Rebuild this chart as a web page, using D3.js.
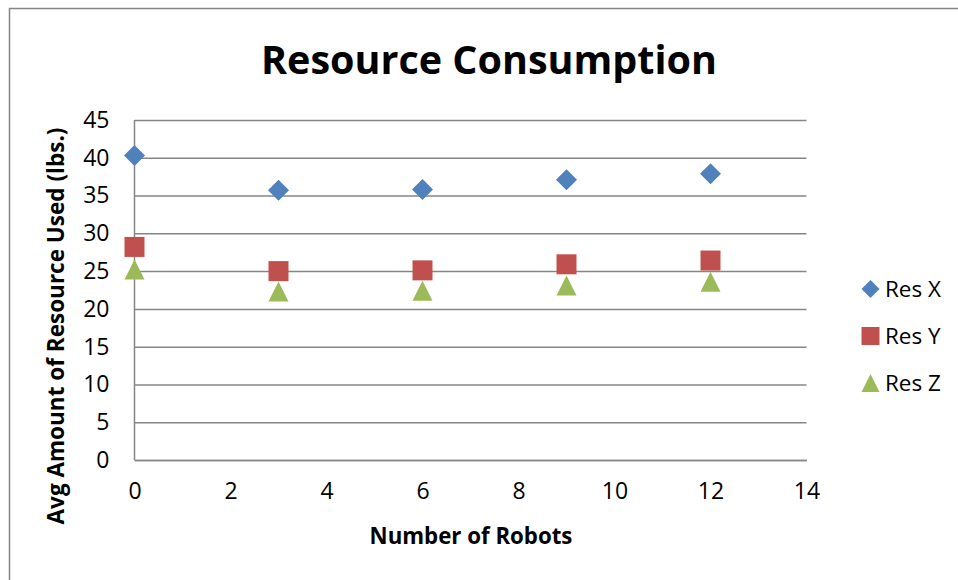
<!DOCTYPE html>
<html><head><meta charset="utf-8">
<script src="https://cdn.jsdelivr.net/npm/d3@7"></script>
<style>body{margin:0;background:#fff}svg{display:block}text{font-family:"Open Sans",sans-serif}</style>
</head><body>
<svg id="c" width="958" height="580"></svg>
<script>
const robots = [0, 3, 6, 9, 12];
const resX = [40.3, 35.7, 35.8, 37.1, 37.9];
const resY = [28.2, 25.0, 25.1, 25.9, 26.4];
const resZ = [25.2, 22.3, 22.4, 23.1, 23.6];
const seriesNames = ["Res X", "Res Y", "Res Z"];
const seriesColors = ["#4F81BD", "#C0504D", "#9BBB59"];
const xTicks = [0, 2, 4, 6, 8, 10, 12, 14];
const yTicks = [0, 5, 10, 15, 20, 25, 30, 35, 40, 45];
const title = "Resource Consumption";
const xTitle = "Number of Robots";
const yTitle = "Avg Amount of Resource Used (lbs.)";

const svg = d3.select("#c");
const m = {l: 134.5, r: 806.5, t: 120, b: 460};
const x = d3.scaleLinear().domain([0, 14]).range([m.l, m.r]);
const y = d3.scaleLinear().domain([0, 45]).range([m.b, m.t]);

// outer border
svg.append("rect").attr("x", 9.5).attr("y", 8.5).attr("width", 1000).attr("height", 1000)
  .attr("fill", "#fff").attr("stroke", "#868686").attr("stroke-width", 1.5);

function fit(sel, w) {
  const cur = sel.node().getComputedTextLength();
  const fs = parseFloat(sel.attr("font-size"));
  sel.attr("font-size", fs * w / cur);
  return sel;
}

// gridlines
const yAxis = d3.axisLeft(y).tickValues(yTicks).tickSize(-(m.r - m.l)).tickPadding(25);
const gy = svg.append("g").attr("transform", `translate(${m.l},0)`).call(yAxis);
gy.select(".domain").remove();
gy.selectAll(".tick line").attr("stroke", "#868686").attr("stroke-width", 1.5);
gy.selectAll(".tick text").attr("font-size", 23).attr("fill", "#000").attr("font-family", "Open Sans");

// left axis line
svg.append("line").attr("x1", m.l).attr("x2", m.l).attr("y1", m.t).attr("y2", m.b)
  .attr("stroke", "#868686").attr("stroke-width", 1.5);

const xAxis = d3.axisBottom(x).tickValues(xTicks).tickSize(0).tickPadding(23);
const gx = svg.append("g").attr("transform", `translate(0,${m.b})`).call(xAxis);
gx.select(".domain").attr("stroke", "#868686").attr("stroke-width", 1.5);
gx.selectAll(".tick text").attr("font-size", 23).attr("fill", "#000").attr("font-family", "Open Sans");

// markers
function marker(g, k, cx, cy, s) {
  let path;
  if (k === 0) path = `M${cx},${cy - s/2}L${cx + s/2},${cy}L${cx},${cy + s/2}L${cx - s/2},${cy}Z`;
  else if (k === 1) path = `M${cx - s/2},${cy - s/2}h${s}v${s}h${-s}Z`;
  else path = `M${cx},${cy - s/2}L${cx + s/2},${cy + s/2}L${cx - s/2},${cy + s/2}Z`;
  g.append("path").attr("d", path).attr("fill", seriesColors[k]);
}
const data = [resX, resY, resZ];
const gm = svg.append("g");
data.forEach((vals, k) => {
  vals.forEach((v, i) => marker(gm, k, x(robots[i]), y(v), k === 0 ? 21 : 20));
});

// title
const t = svg.append("text").attr("x", 489).attr("y", 74).attr("text-anchor", "middle")
  .attr("font-weight", "bold").attr("font-size", 40).text(title);
fit(t, 456);

const xt = svg.append("text").attr("x", 471).attr("y", 544).attr("text-anchor", "middle")
  .attr("font-weight", "bold").attr("font-size", 20).text(xTitle);
fit(xt, 203);

const yt = svg.append("text").attr("transform", "translate(64,326) rotate(-90)").attr("text-anchor", "middle")
  .attr("font-weight", "bold").attr("font-size", 20).text(yTitle);
fit(yt, 397);

// legend
const ly = [289, 336, 383];
let legendFs = null;
seriesNames.forEach((n, k) => {
  marker(svg, k, 870.5, ly[k], 18);
  const lt = svg.append("text").attr("x", 885).attr("y", ly[k] + 8).attr("font-size", 22).text(n);
  if (k === 0) { fit(lt, 56); legendFs = lt.attr("font-size"); }
  else lt.attr("font-size", legendFs);
});
</script>
</body></html>
